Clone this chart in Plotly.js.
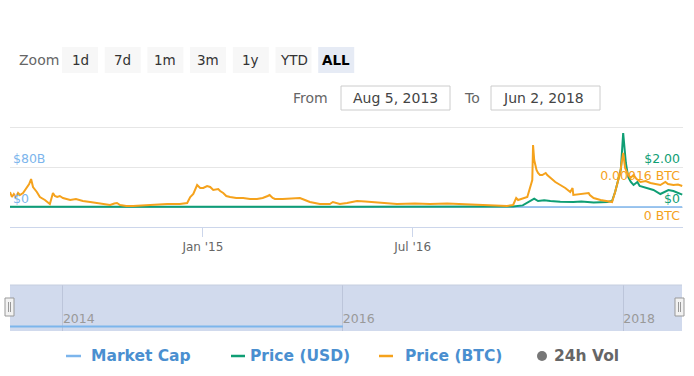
<!DOCTYPE html>
<html>
<head>
<meta charset="utf-8">
<script src="https://cdn.plot.ly/plotly-3.0.1.min.js"></script>
<style>html,body{margin:0;padding:0;background:#fff;}#chart{width:694px;height:376px;}</style>
</head>
<body>
<div id="chart"></div>
<script>
// ---------- DATA ----------
const btcDates = ['2013-08-16','2013-08-21','2013-08-26','2013-08-31','2013-09-06','2013-09-11','2013-09-19','2013-09-29','2013-10-05','2013-10-10','2013-10-12','2013-10-15','2013-10-25','2013-11-02','2013-11-15','2013-11-28','2013-12-06','2013-12-11','2013-12-17','2013-12-24','2014-01-01','2014-01-20','2014-02-04','2014-02-22','2014-03-13','2014-03-31','2014-04-18','2014-05-04','2014-05-15','2014-05-22','2014-05-30','2014-06-15','2014-07-03','2014-08-16','2014-09-30','2014-11-02','2014-11-21','2014-11-29','2014-12-07','2014-12-17','2014-12-25','2015-01-02','2015-01-12','2015-01-20','2015-01-28','2015-02-10','2015-02-15','2015-02-23','2015-03-03','2015-03-13','2015-03-29','2015-04-16','2015-05-04','2015-05-22','2015-06-06','2015-06-19','2015-06-24','2015-07-02','2015-07-08','2015-07-28','2015-08-16','2015-09-11','2015-09-24','2015-10-07','2015-11-02','2015-11-28','2015-12-06','2015-12-24','2016-01-12','2016-02-07','2016-02-28','2016-03-19','2016-04-20','2016-05-21','2016-07-07','2016-08-15','2016-09-29','2016-11-09','2016-12-24','2017-02-06','2017-03-04','2017-03-20','2017-03-28','2017-04-02','2017-04-26','2017-05-09','2017-05-11','2017-05-14','2017-05-17','2017-05-20','2017-05-24','2017-05-29','2017-06-04','2017-06-13','2017-06-17','2017-06-25','2017-07-08','2017-07-21','2017-08-03','2017-08-16','2017-08-22','2017-08-24','2017-09-12','2017-10-03','2017-10-06','2017-10-16','2017-11-03','2017-11-21','2017-12-03','2017-12-11','2017-12-24','2018-01-01','2018-01-06','2018-01-13','2018-01-20','2018-01-28','2018-02-05','2018-02-15','2018-03-01','2018-03-13','2018-03-25','2018-04-08','2018-04-21','2018-04-28','2018-05-12','2018-05-24','2018-06-04'];
const btcPrice = [0.000060,0.000040,0.000052,0.000040,0.000056,0.000048,0.000056,0.000076,0.000092,0.000112,0.000096,0.000080,0.000060,0.000040,0.000028,0.000012,0.000056,0.000044,0.000040,0.000044,0.000036,0.000028,0.000032,0.000024,0.000020,0.000016,0.000012,0.000008,0.000014,0.000016,0.000008,0.000004,0.000004,0.000008,0.000012,0.000012,0.000016,0.000040,0.000052,0.000088,0.000076,0.000076,0.000084,0.000080,0.000068,0.000072,0.000064,0.000056,0.000044,0.000040,0.000036,0.000036,0.000032,0.000032,0.000036,0.000044,0.000048,0.000036,0.000032,0.000032,0.000034,0.000036,0.000028,0.000020,0.000012,0.000012,0.000020,0.000012,0.000016,0.000024,0.000022,0.000020,0.000016,0.000012,0.000014,0.000012,0.000014,0.000012,0.000010,0.000008,0.000004,0.000008,0.000036,0.000028,0.000040,0.000108,0.000248,0.000188,0.000160,0.000148,0.000136,0.000128,0.000128,0.000136,0.000128,0.000116,0.000100,0.000088,0.000076,0.000060,0.000076,0.000048,0.000052,0.000056,0.000048,0.000036,0.000028,0.000024,0.000020,0.000060,0.000136,0.000216,0.000156,0.000132,0.000116,0.000128,0.000112,0.000100,0.000104,0.000096,0.000092,0.000088,0.000100,0.000092,0.000088,0.000090,0.000084];

const usdDates = ['2013-08-16','2013-10-10','2013-12-10','2014-03-10','2014-08-10','2014-12-18','2015-06-08','2016-01-07','2016-08-07','2017-01-05','2017-03-20','2017-04-14','2017-04-26','2017-05-09','2017-05-14','2017-05-24','2017-06-09','2017-06-25','2017-07-21','2017-08-24','2017-09-14','2017-10-16','2017-11-21','2017-12-03','2017-12-11','2017-12-19','2017-12-26','2018-01-01','2018-01-04','2018-01-08','2018-01-14','2018-01-21','2018-01-28','2018-02-07','2018-02-13','2018-02-23','2018-03-08','2018-03-21','2018-04-08','2018-04-18','2018-04-29','2018-05-12','2018-05-23','2018-06-04'];
const usdPrice = [0.01,0.02,0.02,0.01,0.01,0.02,0.01,0.01,0.01,0.01,0.02,0.08,0.20,0.35,0.42,0.30,0.34,0.30,0.26,0.25,0.28,0.22,0.25,0.30,0.75,1.35,1.90,3.70,2.90,2.20,1.50,1.25,1.10,1.25,1.05,1.00,0.95,0.85,0.65,0.75,0.85,0.80,0.70,0.62];
const marketCap = [1e6,2e6,2e6,1e6,1e6,2e6,1e6,1e6,1e6,1e6,2e6,8e6,2e7,3.5e7,4.2e7,3e7,3.4e7,3e7,2.6e7,2.5e7,2.8e7,2.2e7,2.5e7,3e7,7.5e7,1.35e8,1.9e8,3.7e8,2.9e8,2.2e8,1.5e8,1.25e8,1.1e8,1.25e8,1.05e8,1e8,9.5e7,8.5e7,6.5e7,7.5e7,8.5e7,8e7,7e7,6.2e7];

const navDates = ['2013-08-16','2014-03-10','2014-12-18','2015-06-08','2016-01-01'];
const navValues = [1e6,1e6,2e6,1e6,1e6];

const xTickVals = ['2015-01-01','2016-07-01','2018-01-01'];
const xTickText = ["Jan '15","Jul '16","Jan '18"];
const navTickVals = ['2014-01-01','2016-01-01','2018-01-01'];
const navTickText = ['2014','2016','2018'];
const mcapTicks = [0, 80e9, 160e9];
const mcapTickText = ['$0','$80B',''];
const usdTicks = [0, 2];
const usdTickText = ['$0','$2.00'];
const btcTicks = [0, 0.00016];
const btcTickText = ['0 BTC','0.00016 BTC'];

const zoomButtons = ['1d','7d','1m','3m','1y','YTD','ALL'];
const legendNames = ['Market Cap','Price (USD)','Price (BTC)','24h Vol'];
const fromDate = 'Aug 5, 2013';
const toDate = 'Jun 2, 2018';

// ---------- STYLE / LAYOUT ----------
const W = 694, H = 376, L = 10, R = 11;
const px = x => (x - L) / (W - L - R);
const py = y => (H - y) / H;
const FONT = 'DejaVu Sans, sans-serif';
const cMcap = '#7cb5ec', cUsd = '#0f9e74', cBtc = '#f5a21c';
const xRange = ['2013-08-16','2018-06-06'];

const traces = [
  {x: usdDates, y: marketCap, type:'scatter', mode:'lines', line:{color:cMcap, width:1.5}, xaxis:'x', yaxis:'y', hoverinfo:'skip'},
  {x: usdDates, y: usdPrice, type:'scatter', mode:'lines', line:{color:cUsd, width:2}, xaxis:'x', yaxis:'y2', hoverinfo:'skip'},
  {x: btcDates, y: btcPrice, type:'scatter', mode:'lines', line:{color:cBtc, width:2}, xaxis:'x', yaxis:'y3', hoverinfo:'skip'},
  {x: navDates, y: navValues, type:'scatter', mode:'lines', line:{color:cMcap, width:2}, xaxis:'x2', yaxis:'y4', hoverinfo:'skip'}
];

const mainDom = [py(227), py(124)];
const navDom = [py(331), py(285)];

const shapes = [];
const annotations = [];

// navigator mask
shapes.push({type:'rect', xref:'paper', yref:'paper', x0:px(10), x1:px(682), y0:py(331), y1:py(285), fillcolor:'#d1daed', line:{width:0}, layer:'below'});
shapes.push({type:'line', xref:'paper', yref:'paper', x0:px(10), x1:px(682), y0:py(285), y1:py(285), line:{color:'#c6cedf', width:1}});
// handles
[[5,14],[675,684]].forEach(h => {
  shapes.push({type:'rect', xref:'paper', yref:'paper', x0:px(h[0]), x1:px(h[1]), y0:py(316), y1:py(298), fillcolor:'#f2f2f2', line:{color:'#999', width:1}});
  shapes.push({type:'line', xref:'paper', yref:'paper', x0:px(h[0]+3.5), x1:px(h[0]+3.5), y0:py(312), y1:py(302), line:{color:'#999', width:1}});
  shapes.push({type:'line', xref:'paper', yref:'paper', x0:px(h[0]+5.5), x1:px(h[0]+5.5), y0:py(312), y1:py(302), line:{color:'#999', width:1}});
});

// range selector
annotations.push({xref:'paper', yref:'paper', x:px(17), y:py(60), xanchor:'left', yanchor:'middle', text:'Zoom', showarrow:false, font:{family:FONT, size:14, color:'#666'}});
zoomButtons.forEach((b, i) => {
  const x0 = 62 + i * 42.7, x1 = x0 + 36;
  const active = b === 'ALL';
  shapes.push({type:'rect', xref:'paper', yref:'paper', x0:px(x0), x1:px(x1), y0:py(73), y1:py(47), fillcolor: active ? '#e6ebf5' : '#f7f7f7', line:{width:0}, layer:'below'});
  annotations.push({xref:'paper', yref:'paper', x:px((x0 + x1) / 2), y:py(60), xanchor:'center', yanchor:'middle', text: active ? '<b>' + b + '</b>' : b, showarrow:false, font:{family:FONT, size:13.5, color: active ? '#000' : '#333'}});
});
// From / To
annotations.push({xref:'paper', yref:'paper', x:px(330), y:py(98), xanchor:'right', yanchor:'middle', text:'From', showarrow:false, font:{family:FONT, size:14, color:'#666'}});
shapes.push({type:'rect', xref:'paper', yref:'paper', x0:px(341), x1:px(450), y0:py(110), y1:py(86), fillcolor:'#fff', line:{color:'#ccc', width:1}});
annotations.push({xref:'paper', yref:'paper', x:px(395), y:py(98), xanchor:'center', yanchor:'middle', text:fromDate, showarrow:false, font:{family:FONT, size:14, color:'#444'}});
annotations.push({xref:'paper', yref:'paper', x:px(482), y:py(98), xanchor:'right', yanchor:'middle', text:'To', showarrow:false, font:{family:FONT, size:14, color:'#666'}});
shapes.push({type:'rect', xref:'paper', yref:'paper', x0:px(491), x1:px(600), y0:py(110), y1:py(86), fillcolor:'#fff', line:{color:'#ccc', width:1}});
annotations.push({xref:'paper', yref:'paper', x:px(543), y:py(98), xanchor:'center', yanchor:'middle', text:toDate, showarrow:false, font:{family:FONT, size:14, color:'#444'}});

// legend
const legendDash = [[66,81,cMcap],[231,245,cUsd],[379,393,cBtc]];
const legendTextX = [89, 248, 403, 552];
legendDash.forEach(d => shapes.push({type:'line', xref:'paper', yref:'paper', x0:px(d[0]), x1:px(d[1]), y0:py(356), y1:py(356), line:{color:d[2], width:2.5}}));
shapes.push({type:'circle', xref:'paper', yref:'paper', x0:px(537), x1:px(547), y0:py(361), y1:py(351), fillcolor:'#777', line:{width:0}});
legendNames.forEach((n, i) => {
  annotations.push({xref:'paper', yref:'paper', x:px(legendTextX[i]), y:py(356), xanchor:'left', yanchor:'middle', text:'<b>' + n + '</b>', showarrow:false, font:{family:FONT, size:15.5, color: i < 3 ? '#4a8fd0' : '#666'}});
});

const layout = {
  width: W, height: H,
  margin: {l:L, r:R, t:0, b:0},
  paper_bgcolor:'#fff', plot_bgcolor:'rgba(0,0,0,0)',
  showlegend:false,
  font:{family:FONT, size:12, color:'#666'},
  xaxis: {type:'date', range:xRange, domain:[0,1], anchor:'y', showgrid:false, showline:true, linecolor:'#ccd6eb', linewidth:1,
          ticks:'outside', ticklen:9, tickcolor:'#ccd6eb', tickvals:xTickVals, ticktext:xTickText, tickfont:{family:FONT, size:12, color:'#666'}, zeroline:false, fixedrange:true},
  yaxis: {domain:mainDom, range:[-40e9, 166e9], tickvals:mcapTicks, ticktext:mcapTickText, ticklabelposition:'inside top', showgrid:true, gridcolor:'#e6e6e6', gridwidth:1,
          zeroline:false, showline:false, ticks:'', tickfont:{family:FONT, size:12.5, color:cMcap}, fixedrange:true},
  yaxis2: {domain:mainDom, overlaying:'y', side:'right', anchor:'x', range:[-1, 4.15], tickvals:usdTicks, ticktext:usdTickText, ticklabelposition:'inside top', showgrid:false,
          zeroline:false, showline:false, ticks:'', tickfont:{family:FONT, size:12.5, color:cUsd}, fixedrange:true},
  yaxis3: {domain:mainDom, overlaying:'y', side:'right', anchor:'x', range:[-8e-5, 3.32e-4], tickvals:btcTicks, ticktext:btcTickText, ticklabelposition:'inside bottom', showgrid:false,
          zeroline:false, showline:false, ticks:'', tickfont:{family:FONT, size:12.5, color:cBtc}, fixedrange:true},
  xaxis2: {type:'date', range:xRange, domain:[0,1], anchor:'y4', showgrid:true, gridcolor:'#bcc5da', showline:false, ticks:'', tickvals:navTickVals, ticktext:navTickText,
          ticklabelposition:'inside right', tickfont:{family:FONT, size:12.5, color:'#999'}, zeroline:false, fixedrange:true},
  yaxis4: {domain:navDom, anchor:'x2', range:[-1e7, 1.05e8], showgrid:false, showticklabels:false, zeroline:false, showline:false, ticks:'', fixedrange:true},
  shapes: shapes,
  annotations: annotations
};

Plotly.newPlot('chart', traces, layout, {staticPlot:true, displayModeBar:false});
</script>
</body>
</html>
